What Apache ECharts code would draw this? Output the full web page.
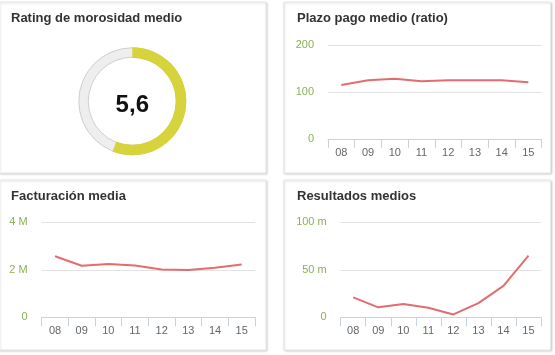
<!DOCTYPE html>
<html>
<head>
<meta charset="utf-8">
<script src="https://cdn.jsdelivr.net/npm/echarts@6/dist/echarts.min.js"></script>
<style>
html,body{margin:0;padding:0;background:#fff;}
#c{width:555px;height:355px;}
</style>
</head>
<body>
<div id="c"></div>
<script>
// ---- data ----
var titles = ['Rating de morosidad medio', 'Plazo pago medio (ratio)', 'Facturación media', 'Resultados medios'];
var categories = ['08', '09', '10', '11', '12', '13', '14', '15'];
var rating = 5.6;
var ratingMax = 10;
var plazoPago = [115, 125, 128, 123, 125, 125, 125, 121];
var facturacion = [2.57, 2.17, 2.24, 2.18, 2.01, 1.99, 2.09, 2.22]; // millones
var resultados = [21, 10.5, 14, 10, 3, 15, 33, 65]; // miles
var plazoTicks = {min: 0, max: 200, interval: 100};
var factTicks = {min: 0, max: 4, interval: 2, unit: ' M'};
var resTicks = {min: 0, max: 100, interval: 50, unit: ' m'};

var FONT = 'Liberation Sans, Arial, sans-serif';
var GREEN = '#8db054';
var LINE = '#e46c6e';
var AXIS = '#c4d4e4';

var chart = echarts.init(document.getElementById('c'), null, {renderer: 'canvas'});

function card(x, y, w, h) {
  return {
    type: 'rect', z: -10,
    shape: {x: x, y: y, width: w, height: h},
    style: {fill: '#ffffff', stroke: '#e8e8e8', lineWidth: 1,
      shadowBlur: 2, shadowOffsetX: 1, shadowOffsetY: 1, shadowColor: 'rgba(0,0,0,0.15)'}
  };
}

function xAx(gi) {
  return {
    type: 'category', gridIndex: gi, data: categories, boundaryGap: true,
    axisLine: {show: true, lineStyle: {color: AXIS, width: 1}},
    axisTick: {show: true, length: 9, lineStyle: {color: AXIS}},
    axisLabel: {color: '#666', fontSize: 11, fontFamily: FONT, margin: 8},
    splitLine: {show: false}
  };
}
function yAx(gi, t) {
  return {
    type: 'value', gridIndex: gi, min: t.min, max: t.max, interval: t.interval,
    axisLine: {show: false}, axisTick: {show: false},
    splitLine: {show: true, lineStyle: {color: '#e2e2e2', width: 1}},
    axisLabel: {color: GREEN, fontSize: 11, fontFamily: FONT, margin: 14, padding: [3, 0, 0, 0],
      formatter: function (v) { return v === 0 ? '0' : (t.unit ? v + t.unit : String(v)); }}
  };
}
function lineSeries(i, data) {
  return {
    type: 'line', xAxisIndex: i, yAxisIndex: i, data: data, smooth: false,
    symbol: 'none', lineStyle: {color: LINE, width: 2}, silent: true, animation: false
  };
}

var titleStyle = {fontFamily: FONT, fontSize: 13, fontWeight: 'bold', color: '#333'};

chart.setOption({
  animation: false,
  backgroundColor: '#fff',
  title: [
    {text: titles[0], left: 11, top: 12, padding: 0, textStyle: titleStyle},
    {text: titles[1], left: 297, top: 12, padding: 0, textStyle: titleStyle},
    {text: titles[2], left: 11, top: 190, padding: 0, textStyle: titleStyle},
    {text: titles[3], left: 297, top: 190, padding: 0, textStyle: titleStyle}
  ],
  graphic: [
    card(-1, 2, 267, 171),
    card(283.5, 2, 267, 171),
    card(-1, 180, 267, 170),
    card(283.5, 180, 267, 170),
    {
      type: 'text', z: 100,
      x: 132.3, y: 105.5,
      style: {text: String(rating).replace('.', ','), font: 'bold 24px ' + FONT,
        fill: '#111', textAlign: 'center', textVerticalAlign: 'middle'}
    }
  ],
  grid: [
    {left: 328, right: 13.3, top: 45, bottom: 216},
    {left: 41.7, right: 300, top: 222.3, bottom: 37.7},
    {left: 340.7, right: 14, top: 222.3, bottom: 37.7}
  ],
  xAxis: [xAx(0), xAx(1), xAx(2)],
  yAxis: [yAx(0, plazoTicks), yAx(1, factTicks), yAx(2, resTicks)],
  series: [
    {
      type: 'pie', silent: true, center: [132.3, 101.3], radius: [44, 53.5],
      label: {show: false}, labelLine: {show: false},
      data: [{value: 1, itemStyle: {color: '#eeeeee', borderColor: '#cfcfcf', borderWidth: 1}}]
    },
    {
      type: 'pie', silent: true, center: [132.3, 101.3], radius: [43.5, 54], startAngle: 90,
      clockwise: true, label: {show: false}, labelLine: {show: false},
      data: [
        {value: rating, itemStyle: {color: '#d6d33b'}},
        {value: ratingMax - rating, itemStyle: {color: 'rgba(0,0,0,0)'}}
      ]
    },
    lineSeries(0, plazoPago),
    lineSeries(1, facturacion),
    lineSeries(2, resultados)
  ]
});
</script>
</body>
</html>
